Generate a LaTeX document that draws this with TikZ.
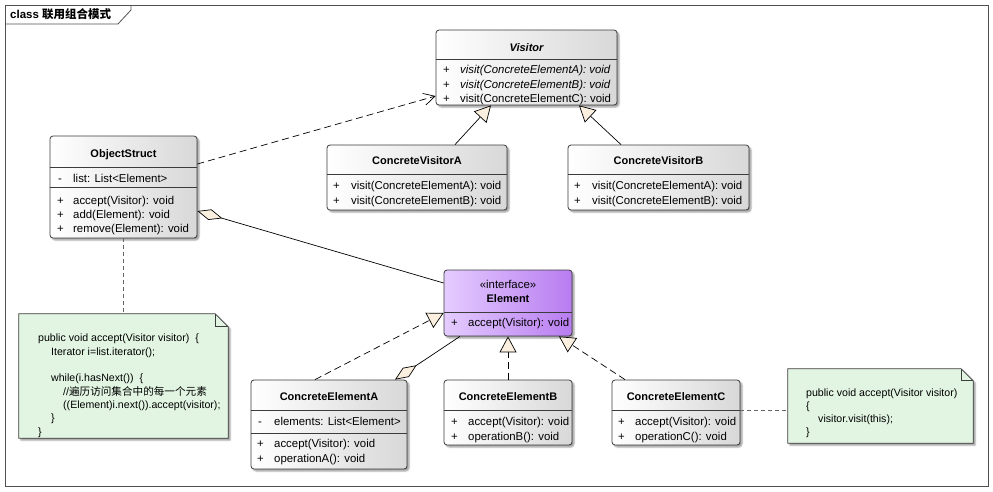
\documentclass[tikz,border=0pt]{standalone}
\usepackage{fontspec}
\setmainfont{Liberation Sans}
\newfontfamily\cjk{Noto Sans CJK SC}
\usetikzlibrary{arrows.meta,shadows.blur,calc}

\definecolor{boxedge}{HTML}{3C3C3C}
\definecolor{boxgrey}{HTML}{D8D8D8}
\definecolor{ifleft}{HTML}{E4CCFF}
\definecolor{ifright}{HTML}{B87CF0}
\definecolor{notefill}{HTML}{E2F5E2}
\definecolor{tipfill}{HTML}{FBF0DF}
\definecolor{framecol}{HTML}{505050}

\tikzset{
  box/.style={draw=boxedge, line width=0.8pt, rounded corners=3pt,
    left color=white, right color=boxgrey, inner sep=0pt,
    blur shadow={shadow xshift=2pt, shadow yshift=-2pt,
      shadow blur radius=1.5pt, shadow opacity=40}},
  ifbox/.style={box, left color=ifleft, right color=ifright},
  sepline/.style={draw=boxedge, line width=0.7pt},
  ttl/.style={font=\fontsize{11}{13}\selectfont\bfseries, anchor=base, inner sep=0pt},
  mem/.style={font=\fontsize{11.4}{13}\selectfont, anchor=base west, inner sep=0pt},
  code/.style={font=\fontsize{10.6}{13}\selectfont, anchor=base west, inner sep=0pt},
  notearea/.style={inner sep=0pt, draw=none},
  notebody/.style={draw=boxedge, line width=0.8pt, fill=notefill,
    blur shadow={shadow xshift=2pt, shadow yshift=-2pt,
      shadow blur radius=1.5pt, shadow opacity=40}},
  gen/.style={draw=black, line width=0.7pt,
    -{Triangle[fill=tipfill, length=16pt, width=17pt, line width=0.7pt]}},
  real/.style={gen, dash pattern=on 7pt off 4pt},
  dep/.style={draw=black, line width=0.7pt, dash pattern=on 7pt off 4pt,
    -{Straight Barb[length=11pt, width=12pt, line width=0.7pt]}},
  agg/.style={draw=black, line width=0.7pt,
    {Diamond[fill=tipfill, length=26pt, width=11pt, line width=0.7pt]}-},
  link/.style={draw=black!60, line width=0.9pt, dash pattern=on 4pt off 3pt},
}

\begin{document}
\begin{tikzpicture}[x=1pt,y=-1pt]
\useasboundingbox (0,0) rectangle (993,491);

% diagram frame with its name tab
\draw[framecol, line width=0.8pt] (5,5) rectangle (988,486);
\draw[framecol, line width=0.8pt] (5,24) -- (118,24) -- (131,10) -- (131,5);
\node[anchor=base west, inner sep=0pt, font=\fontsize{11.5}{13}\selectfont\bfseries]
  (frametitle) at (10,18.5) {class {\cjk 联用组合模式}};

% ---------- Visitor ----------
\node[box, minimum width=181pt, minimum height=75pt] (vis) at (526.5,67.5) {};
\draw[sepline] (vis.west |- 0,59) -- (vis.east |- 0,59);
\node[ttl] (vis-t) at (526.5,51) {\itshape Visitor};
\node[mem] (vis-p1) at (443,73) {+};
\node[mem] (vis-m1) at (460,73) {\itshape visit(ConcreteElementA): void};
\node[mem] (vis-p2) at (443,88) {+};
\node[mem] (vis-m2) at (460,88) {\itshape visit(ConcreteElementB): void};
\node[mem] (vis-p3) at (443,102) {+};
\node[mem] (vis-m3) at (460,102) {visit(ConcreteElementC): void};

% ---------- ObjectStruct ----------
\node[box, minimum width=147pt, minimum height=102pt] (os) at (123.5,187) {};
\draw[sepline] (os.west |- 0,167) -- (os.east |- 0,167);
\draw[sepline] (os.west |- 0,187) -- (os.east |- 0,187);
\node[ttl] (os-t) at (123.5,157) {ObjectStruct};
\node[mem] (os-p0) at (58,182) {-};
\node[mem] (os-a0) at (73,182) {list: List<Element>};
\node[mem] (os-p1) at (57,204) {+};
\node[mem] (os-m1) at (73,204) {accept(Visitor): void};
\node[mem] (os-p2) at (57,218) {+};
\node[mem] (os-m2) at (73,218) {add(Element): void};
\node[mem] (os-p3) at (57,232) {+};
\node[mem] (os-m3) at (73,232) {remove(Element): void};

% ---------- ConcreteVisitorA ----------
\node[box, minimum width=180pt, minimum height=65pt] (cva) at (417,177.5) {};
\draw[sepline] (cva.west |- 0,174) -- (cva.east |- 0,174);
\node[ttl] (cva-t) at (417,164) {ConcreteVisitorA};
\node[mem] (cva-p1) at (333,189) {+};
\node[mem] (cva-m1) at (351,189) {visit(ConcreteElementA): void};
\node[mem] (cva-p2) at (333,204) {+};
\node[mem] (cva-m2) at (351,204) {visit(ConcreteElementB): void};

% ---------- ConcreteVisitorB ----------
\node[box, minimum width=181pt, minimum height=65pt] (cvb) at (658.5,177.5) {};
\draw[sepline] (cvb.west |- 0,174) -- (cvb.east |- 0,174);
\node[ttl] (cvb-t) at (658.5,164) {ConcreteVisitorB};
\node[mem] (cvb-p1) at (574,189) {+};
\node[mem] (cvb-m1) at (592,189) {visit(ConcreteElementA): void};
\node[mem] (cvb-p2) at (574,204) {+};
\node[mem] (cvb-m2) at (592,204) {visit(ConcreteElementB): void};

% ---------- Element (interface) ----------
\node[ifbox, minimum width=128pt, minimum height=66pt] (el) at (508,303) {};
\draw[sepline] (el.west |- 0,312) -- (el.east |- 0,312);
\node[mem, anchor=base] (el-s) at (508,288) {«interface»};
\node[ttl] (el-t) at (508,302) {Element};
\node[mem] (el-p1) at (451,326) {+};
\node[mem] (el-m1) at (468,326) {accept(Visitor): void};

% ---------- ConcreteElementA ----------
\node[box, minimum width=156pt, minimum height=89pt] (cea) at (329,424.5) {};
\draw[sepline] (cea.west |- 0,410) -- (cea.east |- 0,410);
\node[ttl] (cea-t) at (329,400) {ConcreteElementA};
\draw[sepline] (cea.west |- 0,433) -- (cea.east |- 0,433);
\node[mem] (cea-p0) at (258,425) {-};
\node[mem] (cea-a0) at (274,425) {elements: List<Element>};
\node[mem] (cea-p1) at (257,447) {+};
\node[mem] (cea-m1) at (274,447) {accept(Visitor): void};
\node[mem] (cea-p2) at (257,462) {+};
\node[mem] (cea-m2) at (274,462) {operationA(): void};

% ---------- ConcreteElementB ----------
\node[box, minimum width=128pt, minimum height=65pt] (ceb) at (508,412.5) {};
\draw[sepline] (ceb.west |- 0,410) -- (ceb.east |- 0,410);
\node[ttl] (ceb-t) at (508,400) {ConcreteElementB};
\node[mem] (ceb-p1) at (451,425) {+};
\node[mem] (ceb-m1) at (468,425) {accept(Visitor): void};
\node[mem] (ceb-p2) at (451,440) {+};
\node[mem] (ceb-m2) at (468,440) {operationB(): void};

% ---------- ConcreteElementC ----------
\node[box, minimum width=128pt, minimum height=65pt] (cec) at (676,412.5) {};
\draw[sepline] (cec.west |- 0,410) -- (cec.east |- 0,410);
\node[ttl] (cec-t) at (676,400) {ConcreteElementC};
\node[mem] (cec-p1) at (618,425) {+};
\node[mem] (cec-m1) at (635,425) {accept(Visitor): void};
\node[mem] (cec-p2) at (618,440) {+};
\node[mem] (cec-m2) at (635,440) {operationC(): void};

% ---------- note on ObjectStruct.accept ----------
\node[notearea, minimum width=209pt, minimum height=124pt] (note1) at (123.5,376) {};
\path[notebody] (note1.north west) -- ($(note1.north east)+(-13,0)$)
  -- ($(note1.north east)+(0,13)$) -- (note1.south east) -- (note1.south west) -- cycle;
\draw[boxedge, line width=0.7pt] ($(note1.north east)+(-13,0)$)
  -- ($(note1.north east)+(-13,13)$) -- ($(note1.north east)+(0,13)$);
\node[code] (n1-1) at (38,341) {public void accept(Visitor visitor)\ \ \{};
\node[code] (n1-2) at (51,355) {Iterator i=list.iterator();};
\node[code] (n1-3) at (51,381) {while(i.hasNext())\ \ \{};
\node[code] (n1-4) at (63,395) {//{\cjk 遍历访问集合中的每一个元素}};
\node[code] (n1-5) at (63,408) {((Element)i.next()).accept(visitor);};
\node[code] (n1-6) at (51,421) {\}};
\node[code] (n1-7) at (38,435) {\}};

% ---------- note on ConcreteElementC.accept ----------
\node[notearea, minimum width=185pt, minimum height=74pt] (note2) at (880.5,406) {};
\path[notebody] (note2.north west) -- ($(note2.north east)+(-12,0)$)
  -- ($(note2.north east)+(0,12)$) -- (note2.south east) -- (note2.south west) -- cycle;
\draw[boxedge, line width=0.7pt] ($(note2.north east)+(-12,0)$)
  -- ($(note2.north east)+(-12,12)$) -- ($(note2.north east)+(0,12)$);
\node[code] (n2-1) at (806,396) {public void accept(Visitor visitor)};
\node[code] (n2-2) at (806,409) {\{};
\node[code] (n2-3) at (818,422) {visitor.visit(this);};
\node[code] (n2-4) at (806,435) {\}};

% ---------- connectors ----------
\draw[dep] (os.east |- 0,164) -- (vis.west |- 0,96);
\draw[gen] (cva.north -| 455,0) -- (vis.south -| 491,0);
\draw[gen] (cvb.north -| 621,0) -- (vis.south -| 579,0);
\draw[agg] (os.east |- 0,211) -- (el.west |- 0,283);
\draw[real] (cea.north -| 315,0) -- (el.west |- 0,313);
\draw[agg] (cea.north -| 395,0) -- (el.south -| 460,0);
\draw[real] (ceb.north) -- (el.south);
\draw[real] (cec.north -| 625,0) -- (el.south -| 559,0);
\draw[link] (os.south) -- (note1.north);
\draw[link] (cec.east |- 0,410) -- (note2.west |- 0,410);
\end{tikzpicture}
\end{document}
